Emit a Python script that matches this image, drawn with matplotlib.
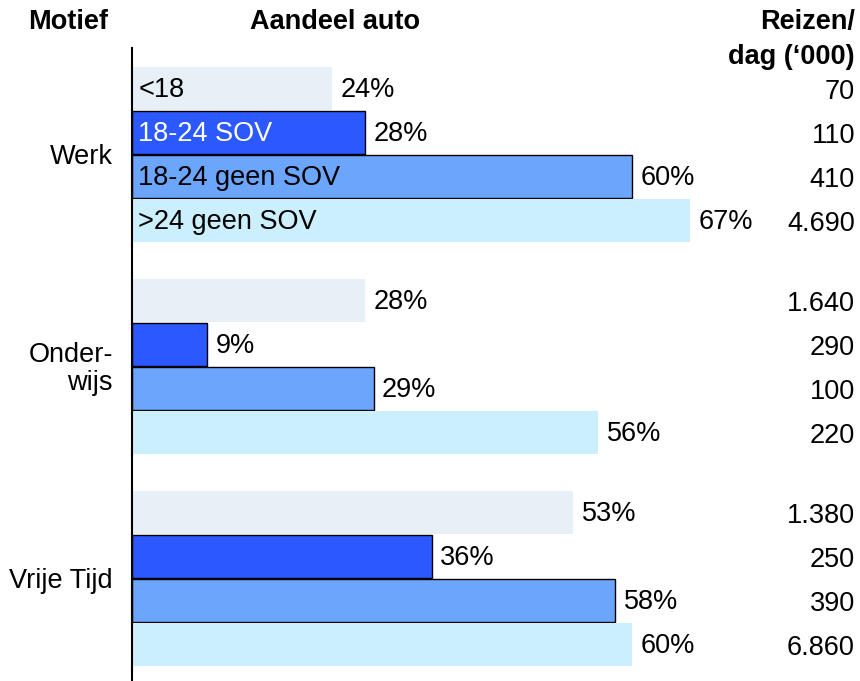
import matplotlib
matplotlib.use("Agg")
import matplotlib.pyplot as plt
import matplotlib.transforms as mtransforms

plt.rcParams['font.family'] = ['Liberation Sans', 'DejaVu Sans']

# ---- data ----
categories = ["Werk", "Onder-\nwijs", "Vrije Tijd"]
series = ["<18", "18-24 SOV", "18-24 geen SOV", ">24 geen SOV"]
share_lt18 = [24, 28, 53]
share_1824_sov = [28, 9, 36]
share_1824_geen = [60, 29, 58]
share_gt24_geen = [67, 56, 60]
trips_lt18 = ["70", "1.640", "1.380"]
trips_1824_sov = ["110", "290", "250"]
trips_1824_geen = ["410", "100", "390"]
trips_gt24_geen = ["4.690", "220", "6.860"]

shares = [share_lt18, share_1824_sov, share_1824_geen, share_gt24_geen]
trips = [trips_lt18, trips_1824_sov, trips_1824_geen, trips_gt24_geen]

# ---- styling ----
colors = ["#E8F0F7", "#2B59FF", "#6CA6FC", "#CBEFFD"]
edges = [None, "black", "black", None]
inner_text_colors = ["black", "white", "black", "black"]
FS = 19.5

W, H = 860, 681
fig = plt.figure(figsize=(W / 100, H / 100), dpi=100)
ax_left, ax_top = 132, 48
ax = fig.add_axes([ax_left / W, 0, (W - ax_left) / W, (H - ax_top) / H])

px_per_unit = 8.33
ax.set_xlim(0, (W - ax_left) / px_per_unit)
pitch_px = 44.0
group_pitch = 212 / pitch_px
first_center_px = 88.5
top_units = -(first_center_px - ax_top) / pitch_px
ax.set_ylim(top_units + (H - ax_top) / pitch_px, top_units)

tr = mtransforms.blended_transform_factory(fig.transFigure, ax.transData)

for s, (vals, col, ec, tc) in enumerate(zip(shares, colors, edges, inner_text_colors)):
    ys = [g * group_pitch + s for g in range(len(categories))]
    ax.barh(ys, vals, height=0.98, color=col,
            edgecolor=ec if ec else col,
            linewidth=1.0 if ec else 0, zorder=2)
    for g, (y, v) in enumerate(zip(ys, vals)):
        ax.annotate(f"{v}%", xy=(v, y), xytext=(6, -1), textcoords="offset points",
                    ha="left", va="center", fontsize=FS, color="black")
        ax.text(855 / W, y + 0.08, trips[s][g], transform=tr, ha="right",
                va="center", fontsize=FS, color="black")
    ax.annotate(series[s], xy=(0, ys[0]), xytext=(4.5, -1), textcoords="offset points",
                ha="left", va="center", fontsize=FS, color=tc, zorder=3)

# group labels
for g, cat in enumerate(categories):
    yc = g * group_pitch + 1.5
    ax.text(113 / W, yc + 0.05, cat, transform=tr, ha="right", va="center",
            fontsize=FS, linespacing=1.12)

# headers
fig.text(108 / W, 1 - 22 / H, "Motief", ha="right", va="center",
         fontsize=FS, fontweight="bold")
fig.text(335 / W, 1 - 22 / H, "Aandeel auto", ha="center", va="center",
         fontsize=FS, fontweight="bold")
fig.text(855 / W, 1 - 22 / H, "Reizen/", ha="right", va="center",
         fontsize=FS, fontweight="bold")
fig.text(855 / W, 1 - 57 / H, "dag (\u2018000)", ha="right", va="center",
         fontsize=FS, fontweight="bold")

for sp in ["top", "right", "bottom"]:
    ax.spines[sp].set_visible(False)
ax.spines["left"].set_linewidth(1.5)
ax.spines["left"].set_color("black")
ax.set_xticks([])
ax.set_yticks([])
ax.patch.set_alpha(0)

fig.savefig("out.png", dpi=100)
